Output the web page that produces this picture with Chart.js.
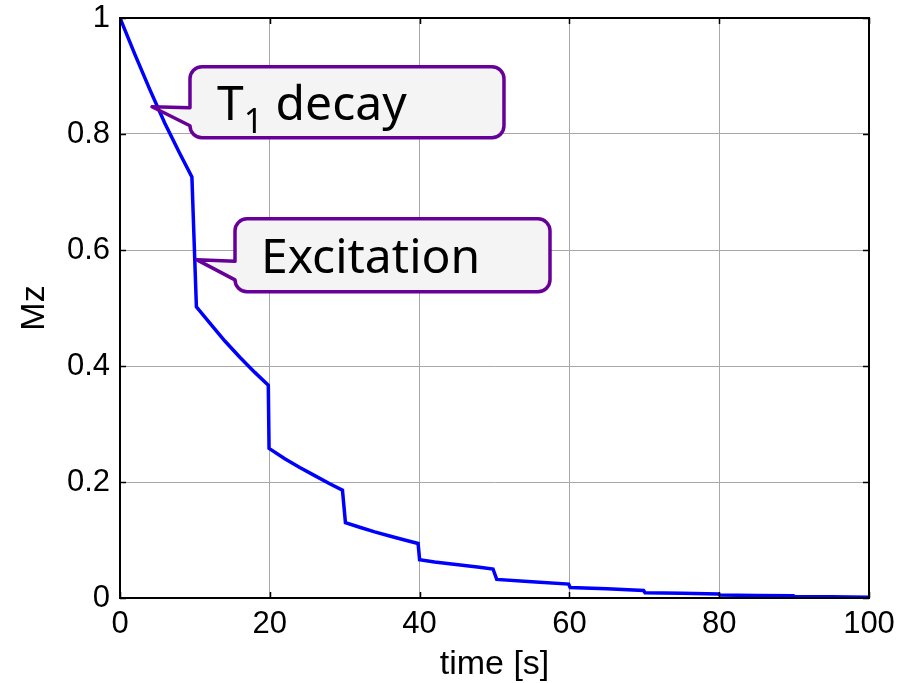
<!DOCTYPE html>
<html>
<head>
<meta charset="utf-8">
<script src="https://cdn.jsdelivr.net/npm/chart.js@4.4.0/dist/chart.umd.min.js"></script>
<style>
  html, body { margin: 0; padding: 0; background: #fff; }
</style>
</head>
<body>
<canvas id="mz" width="917" height="683"></canvas>
<script>
// values (time in s, longitudinal magnetisation Mz)
const times = [0, 2, 4, 6, 8, 9.6, 10.2, 12, 14, 16, 18, 19.8, 19.9, 22, 24, 26, 28, 29.7, 30.1,
  32, 34, 36, 38, 39.8, 40, 42, 44, 46, 48, 49.8, 50.3, 55, 59.9, 60.1, 65, 69.9, 70.1,
  75, 79.9, 80.1, 85, 89.9, 90.1, 95, 100];
const mzValues = [1, 0.937, 0.876, 0.818, 0.766, 0.726, 0.502, 0.474, 0.443, 0.415, 0.389, 0.367, 0.258,
  0.240, 0.225, 0.211, 0.197, 0.186, 0.130, 0.122, 0.114, 0.107, 0.100, 0.094, 0.066,
  0.062, 0.059, 0.056, 0.053, 0.050, 0.032, 0.028, 0.024, 0.018, 0.016, 0.013, 0.009,
  0.008, 0.007, 0.005, 0.0045, 0.004, 0.0022, 0.002, 0.0015];
const xTicks = [0, 20, 40, 60, 80, 100];
const yTicks = [0, 0.2, 0.4, 0.6, 0.8, 1];
const yTickLabels = ['0', '0.2', '0.4', '0.6', '0.8', '1'];

const points = times.map((t, i) => ({ x: t, y: mzValues[i] }));

const axisFont = { family: 'Liberation Sans, Arial, sans-serif', size: 31 };
const calloutFont = '"Noto Sans", "Open Sans", sans-serif';

// callouts: tip anchored on the curve (data coords), box given as pixel offsets from the tip
const callouts = [
  { tipX: 4.27, tipY: 0.847, box: [38, -40, 352, 31], tail: [1, 19], parts: 'T1' },
  { tipX: 10.28, tipY: 0.583, box: [38, -41, 353, 32], tail: [1.5, 20], parts: 'Ex' }
];

function calloutPath(ctx, l, t, r, b, tipX, tipY, tailTop, tailBottom, rad) {
  ctx.beginPath();
  ctx.moveTo(l + rad, t);
  ctx.lineTo(r - rad, t);
  ctx.arcTo(r, t, r, t + rad, rad);
  ctx.lineTo(r, b - rad);
  ctx.arcTo(r, b, r - rad, b, rad);
  ctx.lineTo(l + rad, b);
  ctx.arcTo(l, b, l, b - rad, rad);
  ctx.lineTo(l, tailBottom);
  ctx.lineTo(tipX, tipY);
  ctx.lineTo(l, tailTop);
  ctx.lineTo(l, t + rad);
  ctx.arcTo(l, t, l + rad, t, rad);
  ctx.closePath();
}

const framePlugin = {
  id: 'frame',
  afterDatasetsDraw(chart) {
    const { ctx, chartArea: a, scales: { x, y } } = chart;
    ctx.save();
    // box and inward ticks
    ctx.strokeStyle = '#000';
    ctx.lineWidth = 2;
    ctx.strokeRect(a.left, a.top, a.right - a.left, a.bottom - a.top);
    ctx.lineWidth = 1.5;
    ctx.beginPath();
    xTicks.forEach(v => {
      const px = Math.round(x.getPixelForValue(v)) + 0.5;
      ctx.moveTo(px, a.bottom); ctx.lineTo(px, a.bottom - 6);
      ctx.moveTo(px, a.top); ctx.lineTo(px, a.top + 6);
    });
    yTicks.forEach(v => {
      const py = Math.round(y.getPixelForValue(v)) + 0.5;
      ctx.moveTo(a.left, py); ctx.lineTo(a.left + 6, py);
      ctx.moveTo(a.right, py); ctx.lineTo(a.right - 6, py);
    });
    ctx.stroke();

    // callouts
    callouts.forEach(c => {
      const tx = x.getPixelForValue(c.tipX);
      const ty = y.getPixelForValue(c.tipY);
      const l = tx + c.box[0], t = ty + c.box[1], r = tx + c.box[2], b = ty + c.box[3];
      calloutPath(ctx, l, t, r, b, tx, ty, ty + c.tail[0], ty + c.tail[1], 12);
      ctx.fillStyle = '#f4f4f4';
      ctx.fill();
      ctx.strokeStyle = '#660099';
      ctx.lineWidth = 3.5;
      ctx.lineJoin = 'round';
      ctx.stroke();
      ctx.fillStyle = '#000';
      ctx.textBaseline = 'alphabetic';
      ctx.textAlign = 'left';
      if (c.parts === 'T1') {
        let cx = l + 27;
        const base = ty + 13;
        ctx.font = '48px ' + calloutFont;
        ctx.fillText('T', cx, base);
        cx += ctx.measureText('T').width;
        ctx.font = '34px ' + calloutFont;
        ctx.fillText('1', cx, base + 13);
        cx += ctx.measureText('1').width;
        ctx.font = '48px ' + calloutFont;
        ctx.fillText(' decay', cx, base);
      } else {
        ctx.font = '48px ' + calloutFont;
        ctx.fillText('Excitation', l + 26, ty + 13);
      }
    });
    ctx.restore();
  }
};

new Chart(document.getElementById('mz'), {
  type: 'line',
  data: {
    datasets: [{
      data: points,
      borderColor: '#0000ff',
      borderWidth: 3.5,
      pointRadius: 0,
      tension: 0,
      fill: false
    }]
  },
  options: {
    responsive: false,
    animation: false,
    devicePixelRatio: 1,
    layout: { padding: { top: 18, right: 48, bottom: 0, left: 0 } },
    plugins: { legend: { display: false }, tooltip: { enabled: false } },
    scales: {
      x: {
        type: 'linear',
        min: 0,
        max: 100,
        afterFit: s => { s.height = 85; s.paddingLeft = 0; s.paddingRight = 0; },
        afterBuildTicks: s => { s.ticks = xTicks.map(v => ({ value: v })); },
        ticks: { color: '#000', font: axisFont, padding: 8, maxRotation: 0 },
        grid: { color: '#a8a8a8', lineWidth: 1, drawTicks: false },
        border: { display: false },
        title: { display: true, text: 'time [s]', color: '#000', font: { family: axisFont.family, size: 34, lineHeight: 1.06 }, padding: 0 }
      },
      y: {
        type: 'linear',
        min: 0,
        max: 1,
        afterFit: s => { s.width = 120; s.paddingTop = 0; s.paddingBottom = 0; },
        afterBuildTicks: s => { s.ticks = yTicks.map(v => ({ value: v })); },
        ticks: { color: '#000', font: axisFont, padding: 10, callback: (v, i) => yTickLabels[i] },
        grid: { color: '#a8a8a8', lineWidth: 1, drawTicks: false },
        border: { display: false },
        title: { display: true, text: 'Mz', color: '#000', font: { family: axisFont.family, size: 34, lineHeight: 1.2 }, padding: { top: 14, bottom: 0 } }
      }
    }
  },
  plugins: [framePlugin]
});
</script>
</body>
</html>
